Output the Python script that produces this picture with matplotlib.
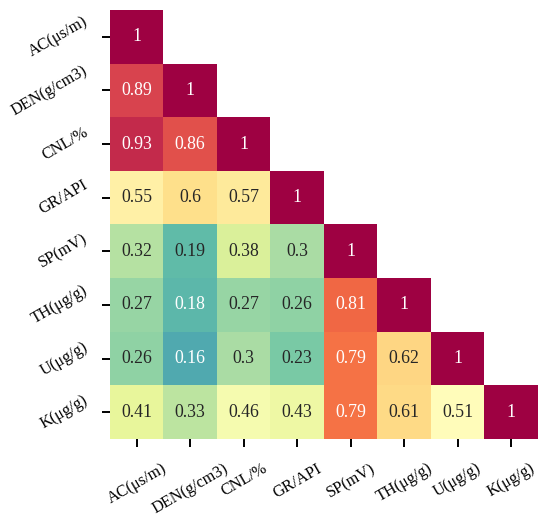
import numpy as np
import matplotlib
matplotlib.use("Agg")
import matplotlib.pyplot as plt
import seaborn as sns

labels = ["AC(μs/m)", "DEN(g/cm3)", "CNL/%", "GR/API", "SP(mV)", "TH(μg/g)", "U(μg/g)", "K(μg/g)"]
row_ac = [1]
row_den = [0.89, 1]
row_cnl = [0.93, 0.86, 1]
row_gr = [0.55, 0.6, 0.57, 1]
row_sp = [0.32, 0.19, 0.38, 0.3, 1]
row_th = [0.27, 0.18, 0.27, 0.26, 0.81, 1]
row_u = [0.26, 0.16, 0.3, 0.23, 0.79, 0.62, 1]
row_k = [0.41, 0.33, 0.46, 0.43, 0.79, 0.61, 0.51, 1]
rows = [row_ac, row_den, row_cnl, row_gr, row_sp, row_th, row_u, row_k]

n = len(labels)
mat = np.full((n, n), np.nan)
for i, r in enumerate(rows):
    mat[i, :len(r)] = r
for i in range(n):
    for j in range(i + 1, n):
        mat[i, j] = mat[j, i]
mask = np.triu(np.ones((n, n), dtype=bool), k=1)

plt.rcParams['font.family'] = ['Liberation Serif', 'DejaVu Serif']
fig = plt.figure(figsize=(5.5, 5.22), dpi=100)
ax = fig.add_axes([0.2, 0.159, 0.778, 0.822])
sns.heatmap(mat, mask=mask, cmap="Spectral_r", vmin=0, vmax=1, annot=True, fmt="g",
            annot_kws={"fontsize": 12.8}, cbar=False, square=False, ax=ax,
            xticklabels=labels, yticklabels=labels)
ax.tick_params(axis='both', length=5.5, width=1.4, labelsize=11.7)
ax.tick_params(axis='y', pad=8.5)
ax.tick_params(axis='x', pad=10)
plt.setp(ax.get_xticklabels(), rotation=30, ha='center', va='top')
plt.setp(ax.get_yticklabels(), rotation=30, ha='right', va='center')
fig.savefig("out.png", dpi=100)
